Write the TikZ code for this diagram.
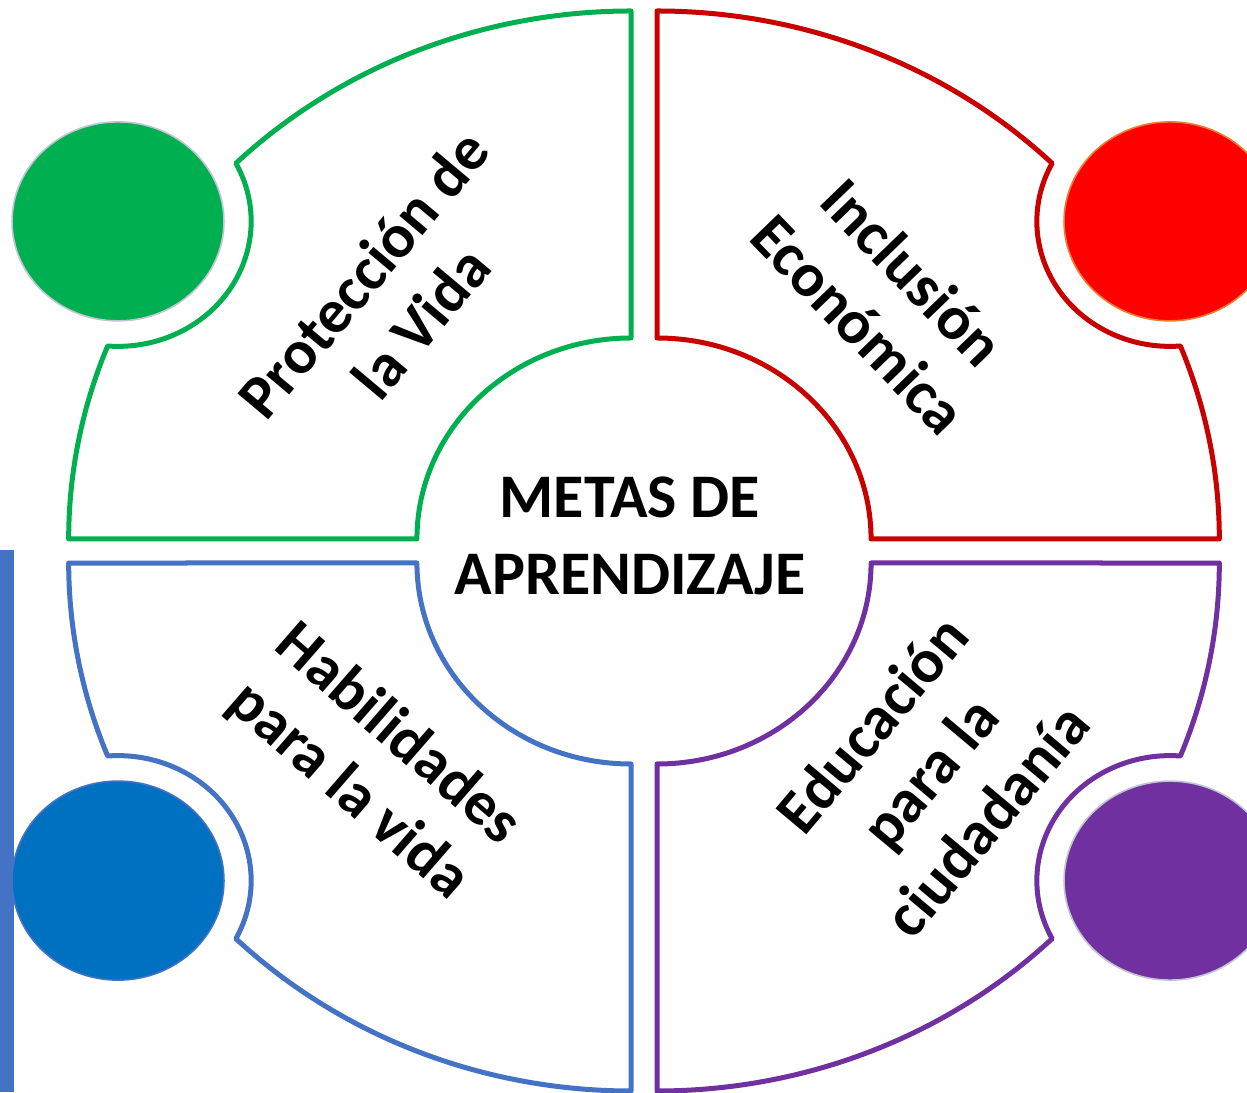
\documentclass[tikz,border=0pt]{standalone}
\usepackage{fontspec}
\setmainfont{Carlito}
\usetikzlibrary{positioning}
\definecolor{verde}{HTML}{00B050}
\definecolor{rojo}{RGB}{200,0,0}
\definecolor{rojoBola}{HTML}{FF0000}
\definecolor{naranja}{HTML}{ED7D31}
\definecolor{azul}{HTML}{4472C4}
\definecolor{azulBola}{HTML}{0070C0}
\definecolor{morado}{HTML}{7030A0}
\definecolor{grisBorde}{HTML}{BFC5D2}
\tikzset{
  pieza/.style={line width=5pt, line join=round, fill=white},
  bola/.style={line width=1.6pt},
  titulo/.style={font=\fontsize{62}{77}\selectfont\bfseries, align=center},
  meta/.style={font=\fontsize{62}{75}\selectfont\bfseries, align=center},
}
% one quarter, corner at the origin, notch round the small circle
\newcommand{\contorno}{(0,201) -- (0,528)
  arc[start angle=90, end angle=134.64, radius=528]
  arc[start angle=27.68, end angle=-94.48, radius=125]
  arc[start angle=158.56, end angle=180, radius=528]
  -- (-201,0) arc[start angle=180, end angle=90, radius=201] -- cycle}

\begin{document}
\begin{tikzpicture}[x=1pt, y=1pt]
\fill[white] (0,0) rectangle (1247,1092);
\useasboundingbox (0,0) rectangle (1247,1092);
\clip (0,0) rectangle (1247,1092);

\fill[azul] (0,0) rectangle (14,542);

\begin{scope}[shift={(631,553)}, xscale=1.065]
  \draw[pieza, draw=verde] \contorno;
  \draw[bola, draw=grisBorde, fill=verde] (146.6:577) circle[radius=99.5];
\end{scope}
\begin{scope}[shift={(657,553)}, xscale=-1.065]
  \draw[pieza, draw=rojo] \contorno;
  \draw[bola, draw=naranja, fill=rojoBola] (146.6:577) circle[radius=99.5];
\end{scope}
\begin{scope}[shift={(631,529)}, xscale=1.065, yscale=-1]
  \draw[pieza, draw=azul] \contorno;
  \draw[bola, draw=azul, fill=azulBola] (146.6:577) circle[radius=99.5];
\end{scope}
\begin{scope}[shift={(657,529)}, xscale=-1.065, yscale=-1]
  \draw[pieza, draw=morado] \contorno;
  \draw[bola, draw=grisBorde, fill=morado] (146.6:577) circle[radius=99.5];
\end{scope}

\node[titulo] (metas) at (630,556) {METAS DE\\APRENDIZAJE};
\node[meta, rotate=50] (vida) at (392,794) {Protección de\\la Vida};
\node[meta, rotate=-46] (inclusion) at (886,794) {Inclusión\\Económica};
\node[meta, rotate=-41] (habilidades) at (373,329) {Habilidades\\para la vida};
\node[meta, rotate=50] (ciudadania) at (929,320) {Educación\\para la\\ciudadanía};
\end{tikzpicture}
\end{document}
